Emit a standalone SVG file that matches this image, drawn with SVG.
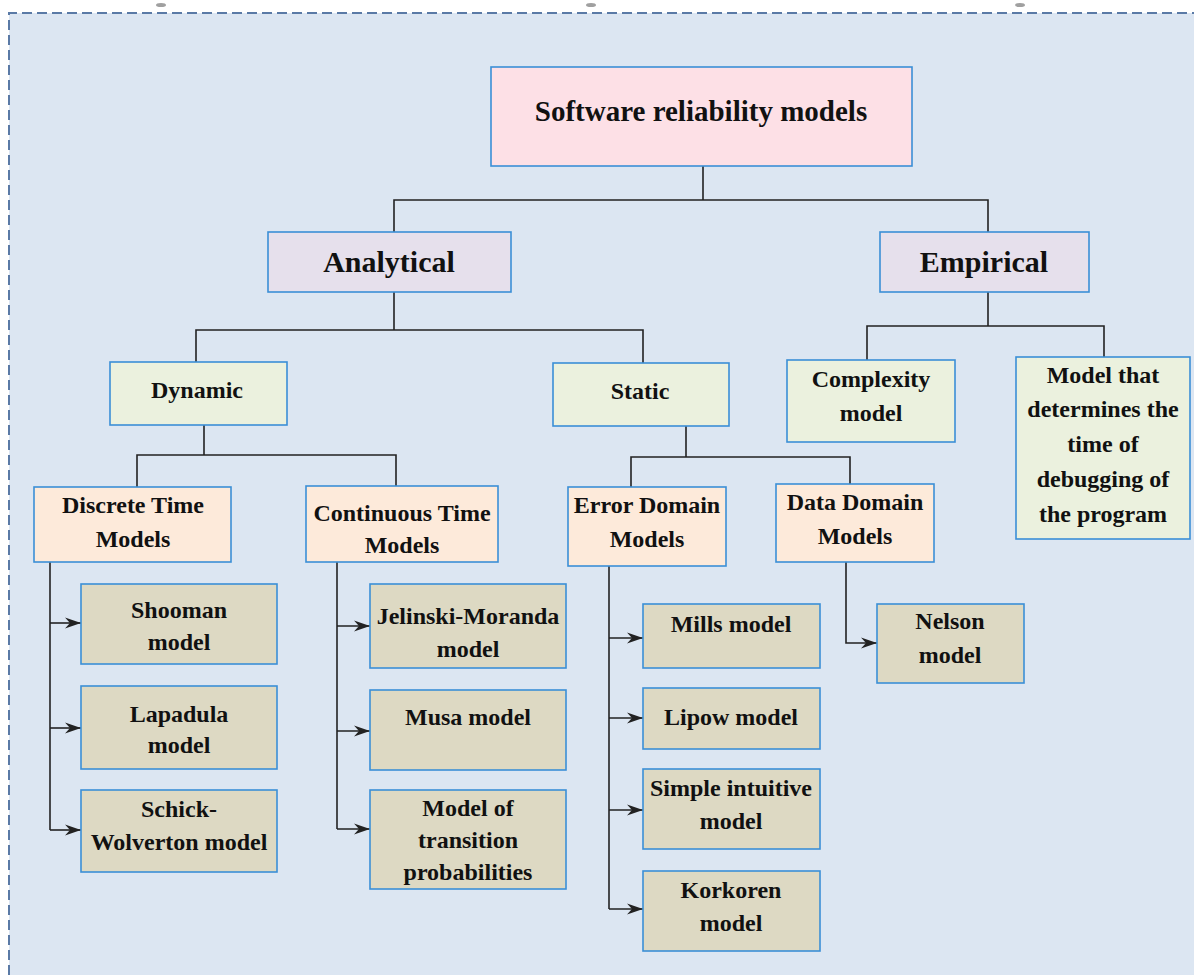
<svg xmlns="http://www.w3.org/2000/svg" width="1194" height="975" viewBox="0 0 1194 975">
<style>
.bx{stroke:#3b8fd6;stroke-width:1.6}
.root{fill:#fde0e6}
.l1{fill:#e6e0ec}
.l2{fill:#ebf1de}
.l3{fill:#fdeada}
.lf{fill:#ddd9c3}
text{font-family:"Liberation Serif","Times New Roman",serif;font-weight:bold;fill:#111;text-anchor:middle;font-size:24px}
.big{font-size:30px}
.rt{font-size:29px}
.cn path{fill:none;stroke:#222;stroke-width:1.6}
</style>
<defs>
<marker id="ar" markerUnits="userSpaceOnUse" markerWidth="20" markerHeight="14" refX="17" refY="7" orient="auto">
<path d="M1,1.5 L17,7 L1,12.5 L6,7 Z" fill="#222"/>
</marker>
</defs>
<rect x="0" y="0" width="1194" height="975" fill="#ffffff"/>
<rect x="9" y="13" width="1200" height="980" fill="#dce6f2"/>
<path d="M9,975 L9,13 L1194,13" fill="none" stroke="#5a7aa6" stroke-width="2" stroke-dasharray="10,5"/>
<g fill="#a0a0a0">
<ellipse cx="161" cy="5" rx="5" ry="2"/>
<ellipse cx="591" cy="5" rx="5" ry="2"/>
<ellipse cx="1020" cy="5" rx="5" ry="2"/>
</g>
<g class="cn">
<path d="M703,166 V200 M394,232 V200 H988 V232"/>
<path d="M394,292 V330 M196,362 V330 H643 V363"/>
<path d="M988,292 V326 M867,360 V326 H1104 V357"/>
<path d="M204,425 V455 M137,487 V455 H396 V486"/>
<path d="M686,426 V457 M631,487 V457 H850 V484"/>
<path d="M50,562 V830"/>
<path d="M50,623 H81" marker-end="url(#ar)"/>
<path d="M50,728 H81" marker-end="url(#ar)"/>
<path d="M50,830 H81" marker-end="url(#ar)"/>
<path d="M337,562 V829"/>
<path d="M337,626 H370" marker-end="url(#ar)"/>
<path d="M337,731 H370" marker-end="url(#ar)"/>
<path d="M337,829 H370" marker-end="url(#ar)"/>
<path d="M609,566 V909"/>
<path d="M609,638 H643" marker-end="url(#ar)"/>
<path d="M609,718 H643" marker-end="url(#ar)"/>
<path d="M609,810 H643" marker-end="url(#ar)"/>
<path d="M609,909 H643" marker-end="url(#ar)"/>
<path d="M846,562 V643 H877" marker-end="url(#ar)"/>
</g>
<g id="root"><rect class="bx root" x="491" y="67" width="421" height="99"/><text class="rt" x="701" y="121">Software reliability models</text></g>
<g id="analytical"><rect class="bx l1" x="268" y="232" width="243" height="60"/><text class="big" x="389" y="272">Analytical</text></g>
<g id="empirical"><rect class="bx l1" x="880" y="232" width="209" height="60"/><text class="big" x="984" y="272">Empirical</text></g>
<g id="dynamic"><rect class="bx l2" x="110" y="362" width="177" height="63"/><text x="197" y="398">Dynamic</text></g>
<g id="static"><rect class="bx l2" x="553" y="363" width="176" height="63"/><text x="640" y="399">Static</text></g>
<g id="complexity"><rect class="bx l2" x="787" y="360" width="168" height="82"/><text x="871" y="387">Complexity</text><text x="871" y="421">model</text></g>
<g id="debugging"><rect class="bx l2" x="1016" y="357" width="174" height="182"/><text x="1103" y="383">Model that</text><text x="1103" y="417">determines the</text><text x="1103" y="452">time of</text><text x="1103" y="487">debugging of</text><text x="1103" y="522">the program</text></g>
<g id="discrete"><rect class="bx l3" x="34" y="487" width="197" height="75"/><text x="133" y="513">Discrete Time</text><text x="133" y="547">Models</text></g>
<g id="continuous"><rect class="bx l3" x="306" y="486" width="192" height="76"/><text x="402" y="521">Continuous Time</text><text x="402" y="553">Models</text></g>
<g id="error"><rect class="bx l3" x="568" y="487" width="158" height="79"/><text x="647" y="513">Error Domain</text><text x="647" y="547">Models</text></g>
<g id="data"><rect class="bx l3" x="776" y="484" width="158" height="78"/><text x="855" y="510">Data Domain</text><text x="855" y="544">Models</text></g>
<g id="shooman"><rect class="bx lf" x="81" y="584" width="196" height="80"/><text x="179" y="618">Shooman</text><text x="179" y="650">model</text></g>
<g id="lapadula"><rect class="bx lf" x="81" y="686" width="196" height="83"/><text x="179" y="722">Lapadula</text><text x="179" y="753">model</text></g>
<g id="schick"><rect class="bx lf" x="81" y="790" width="196" height="82"/><text x="179" y="817">Schick-</text><text x="179" y="850">Wolverton model</text></g>
<g id="jelinski"><rect class="bx lf" x="370" y="584" width="196" height="84"/><text x="468" y="624">Jelinski-Moranda</text><text x="468" y="657">model</text></g>
<g id="musa"><rect class="bx lf" x="370" y="690" width="196" height="80"/><text x="468" y="725">Musa model</text></g>
<g id="transition"><rect class="bx lf" x="370" y="790" width="196" height="99"/><text x="468" y="816">Model of</text><text x="468" y="848">transition</text><text x="468" y="880">probabilities</text></g>
<g id="mills"><rect class="bx lf" x="643" y="604" width="177" height="64"/><text x="731" y="632">Mills model</text></g>
<g id="lipow"><rect class="bx lf" x="643" y="688" width="177" height="61"/><text x="731" y="725">Lipow model</text></g>
<g id="simple"><rect class="bx lf" x="643" y="769" width="177" height="80"/><text x="731" y="796">Simple intuitive</text><text x="731" y="829">model</text></g>
<g id="korkoren"><rect class="bx lf" x="643" y="871" width="177" height="80"/><text x="731" y="898">Korkoren</text><text x="731" y="931">model</text></g>
<g id="nelson"><rect class="bx lf" x="877" y="604" width="147" height="79"/><text x="950" y="629">Nelson</text><text x="950" y="663">model</text></g>
</svg>
